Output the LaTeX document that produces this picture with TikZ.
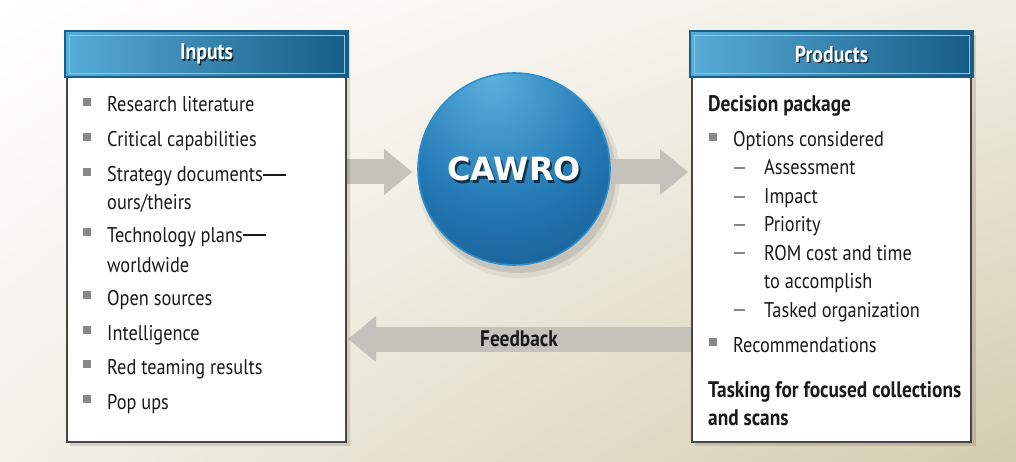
\documentclass[tikz,border=0pt]{standalone}
\usepackage{fontspec}
\setmainfont{PT Sans}[FakeStretch=0.86]
\newfontfamily\cawfont{DejaVu Sans}
\usetikzlibrary{arrows.meta,calc,shadings}
\definecolor{hdrL}{RGB}{88,172,216}
\definecolor{hdrR}{RGB}{22,92,134}
\definecolor{hdrEdge}{RGB}{22,96,140}
\definecolor{hdrLine}{RGB}{140,200,230}
\definecolor{arrowgray}{RGB}{196,194,187}
\definecolor{bulletgray}{RGB}{135,135,135}
\definecolor{boxedge}{RGB}{70,70,70}
\definecolor{bgUR}{RGB}{240,238,228}
\definecolor{bgLL}{RGB}{242,240,232}
\definecolor{bgLR}{RGB}{212,204,174}
\definecolor{txt}{RGB}{25,25,25}
\definecolor{cawhi}{RGB}{92,176,220}
\definecolor{cawmid}{RGB}{36,122,182}
\definecolor{cawdark}{RGB}{14,66,116}
\definecolor{cawrim}{RGB}{44,142,204}
\pgfdeclareradialshading{cawsphere}{\pgfpoint{-6bp}{24bp}}{color(0bp)=(cawhi); color(26bp)=(cawmid); color(62bp)=(cawdark); color(95bp)=(cawdark)}
\pgfdeclarelayer{bglayer}
\pgfdeclarelayer{arrowlayer}
\pgfsetlayers{bglayer,arrowlayer,main}
\newcommand\sqbul[2]{\fill[bulletgray] (#1-4,#2-14) rectangle (#1+4,#2-6);}
\newcommand\subdash[2]{\draw[bulletgray, line width=1.1pt] (#1,#2-7) -- (#1+11,#2-7);}
\newcommand\longdash{\kern0.6pt\rule[6.2pt]{23pt}{1.5pt}}
\begin{document}
\begin{tikzpicture}[x=1pt,y=-1pt,
  box/.style={draw=boxedge, line width=1.4pt, fill=white, inner sep=0, outer sep=0, anchor=north west, minimum width=279pt, minimum height=410pt},
  hdr/.style={left color=hdrL, right color=hdrR, draw=hdrEdge, line width=1.8pt, inner sep=0, outer sep=0, minimum width=283pt, minimum height=46pt, anchor=north},
  hdrtext/.style={text=white, font=\bfseries\fontsize{23}{27}\selectfont, inner sep=0},
  hdrshadow/.style={text=black, opacity=0.7, font=\bfseries\fontsize{23}{27}\selectfont, inner sep=0},
  item/.style={anchor=base west, inner sep=0, text=txt, font=\fontsize{21.3}{25}\selectfont},
  bolditem/.style={anchor=base west, inner sep=0, text=txt, font=\bfseries\fontsize{22.5}{26}\selectfont},
  flowarrow/.style={draw=arrowgray, line width=25pt, -{Triangle[length=28pt,width=46pt,line width=0pt]}},
  fbtext/.style={text=txt, font=\bfseries\fontsize{22.5}{26}\selectfont, inner sep=0},
  cawtext/.style={text=white, font=\cawfont\bfseries\fontsize{32}{38}\selectfont, inner sep=0},
  cawshadow/.style={text=black, opacity=0.6, font=\cawfont\bfseries\fontsize{32}{38}\selectfont, inner sep=0}
]
\useasboundingbox (0,0) rectangle (1016,462);
\begin{pgfonlayer}{bglayer}
\shade[upper left=white, upper right=bgUR, lower left=bgLL, lower right=bgLR] (0,0) rectangle (1016,462);
\end{pgfonlayer}

% boxes
\fill[black, opacity=0.12] (70,35) rectangle (350,446);
\fill[black, opacity=0.12] (695,35) rectangle (976,446);
\node[box] (inputs) at (67,32) {};
\node[box] (products) at (692,32) {};
\node[hdr] (inHdr) at ($(inputs.north)+(0,-1)$) {};
\node[hdr] (prHdr) at ($(products.north)+(0,-1)$) {};
\draw[hdrLine, line width=0.8pt] ($(inHdr.north west)+(4,4)$) rectangle ($(inHdr.south east)+(-4,-4)$);
\draw[hdrLine, line width=0.8pt] ($(prHdr.north west)+(4,4)$) rectangle ($(prHdr.south east)+(-4,-4)$);
\node[hdrshadow] (inHdrS) at ($(inHdr.center)+(1.3,1.6)$) {Inputs};
\node[hdrtext] (inHdrT) at (inHdr.center) {Inputs};
\node[hdrshadow] (prHdrS) at ($(prHdr.center)+(1.3,1.6)$) {Products};
\node[hdrtext] (prHdrT) at (prHdr.center) {Products};

% circle
\node[circle, minimum size=192pt, inner sep=0, shade, shading=cawsphere, draw=cawrim, line width=1.6pt] (cawro) at (514,169) {};
\node[cawshadow] (cawS) at ($(cawro.center)+(2,2.5)$) {CAWRO};
\node[cawtext] (cawT) at (cawro.center) {CAWRO};

% arrows and circle shadow
\coordinate (fbY) at (0,339);
\begin{pgfonlayer}{arrowlayer}
\fill[black, opacity=0.06] ($(cawro.center)+(5,8)$) circle (101pt);
\fill[black, opacity=0.10] ($(cawro.center)+(4,6)$) circle (98pt);
\draw[flowarrow] ($(inputs.east |- cawro.center)+(0,3)$) -- ($(cawro.west)+(-5,3)$);
\draw[flowarrow] ($(cawro.center)+(0,3)$) -- ($(products.west |- cawro.center)+(-4,3)$);
\draw[flowarrow] (products.west |- fbY) -- ($(inputs.east |- fbY)+(2,0)$);
\end{pgfonlayer}
\node[fbtext] (fb) at ($(products.west |- fbY)!0.5!(inputs.east |- fbY)$) {Feedback};

% inputs list
\sqbul{87}{112} \node[item] (i1) at (107,112) {Research literature};
\sqbul{87}{147} \node[item] (i2) at (107,147) {Critical capabilities};
\sqbul{87}{182} \node[item] (i3) at (107,182) {Strategy documents\longdash};
\node[item] (i3b) at (107,210) {ours/theirs};
\sqbul{87}{242} \node[item] (i4) at (107,242) {Technology plans\longdash};
\node[item] (i4b) at (107,272) {worldwide};
\sqbul{87}{305} \node[item] (i5) at (107,305) {Open sources};
\sqbul{87}{340} \node[item] (i6) at (107,340) {Intelligence};
\sqbul{87}{374} \node[item] (i7) at (107,374) {Red teaming results};
\sqbul{87}{409} \node[item] (i8) at (107,409) {Pop ups};

% products list
\node[bolditem] (p0) at (708,112) {Decision package};
\sqbul{712.5}{147} \node[item] (p1) at (733,147) {Options considered};
\subdash{734}{175} \node[item] (p2) at (764,175) {Assessment};
\subdash{734}{204} \node[item] (p3) at (764,204) {Impact};
\subdash{734}{232} \node[item] (p4) at (764,232) {Priority};
\subdash{734}{260} \node[item] (p5) at (764,260) {ROM cost and time};
\node[item] (p5b) at (764,288) {to accomplish};
\subdash{734}{317} \node[item] (p6) at (764,317) {Tasked organization};
\sqbul{712.5}{352} \node[item] (p7) at (733,352) {Recommendations};
\node[bolditem] (p8) at (708,397) {Tasking for focused collections};
\node[bolditem] (p8b) at (708,425) {and scans};
\end{tikzpicture}
\end{document}
